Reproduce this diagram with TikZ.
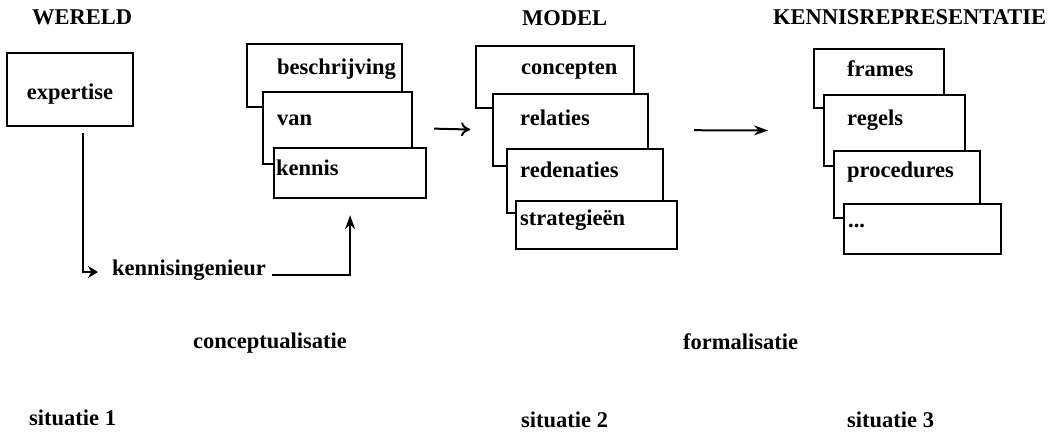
\documentclass[tikz,border=0pt]{standalone}
\usepackage{fontspec}
\setmainfont{Liberation Serif}
\usetikzlibrary{arrows.meta}

\tikzset{
  txt/.style={font=\fontsize{22.5}{25}\selectfont\bfseries, inner sep=0pt, anchor=base west},
  card/.style={draw, fill=white, line width=2.2pt, inner sep=0pt, anchor=north west},
  conn/.style={line width=2pt, -{Stealth[length=14pt,width=10pt]}},
}

% card from corner (x1,y1) to (x2,y2), pixel units
\newcommand{\card}[5]{%
  \node[card, minimum width={(#4-#2)*1pt}, minimum height={(#5-#3)*1pt}] (#1) at (#2,#3) {};}

\begin{document}
\begin{tikzpicture}[x=1pt,y=-1pt]
\useasboundingbox (0,0) rectangle (1054,433);

% Headings
\node[txt] (wereld) at (32,25) {WERELD};
\node[txt] (model) at (522,26) {MODEL};
\node[txt] (krep) at (773,25) {KENNISREPRESENTATIE};

% World
\node[draw, line width=2.2pt, minimum width=126pt, minimum height=73pt,
  text height=21pt, text depth=0pt,
  font=\fontsize{22.5}{25}\selectfont\bfseries] (expertise) at (70,89.5) {expertise};
\node[txt] (ki) at (112,275) {kennisingenieur};

% Description of knowledge
\card{b1}{246}{43}{401}{106}
\card{b2}{262}{91}{411}{163}
\card{b3}{273}{147}{425}{197}
\node[txt] (t1) at (277,75) {beschrijving};
\node[txt] (t2) at (277,125) {van};
\node[txt] (t3) at (276,175) {kennis};

% Model
\card{m1}{475}{45}{633}{107}
\card{m2}{492}{93}{647}{165}
\card{m3}{506}{148}{662}{212}
\card{m4}{515}{200}{676}{248}
\node[txt] (c1) at (521,75) {concepten};
\node[txt] (c2) at (520,125) {relaties};
\node[txt] (c3) at (520,177) {redenaties};
\node[txt] (c4) at (520,225) {strategieën};

% Representation
\card{r1}{813}{48}{943}{107}
\card{r2}{823}{94}{964}{165}
\card{r3}{833}{150}{979}{217}
\card{r4}{843}{203}{1000}{253}
\node[txt] (f1) at (847,77) {frames};
\node[txt] (f2) at (847,125) {regels};
\node[txt] (f3) at (847,177) {procedures};
\node[txt] (f4) at (848,227) {...};

% Connectors
\draw[line width=2pt, -{Stealth[length=10pt,width=12pt]}] ([xshift=13pt,yshift=-6pt]expertise.south) |- ([xshift=-14pt,yshift=3pt]ki.base west);
\draw[conn] ([xshift=6pt]ki.base east) -| ([yshift=-16pt]b3.south);
\draw[line width=2pt, -{To[length=9pt,width=14pt]}, shorten <=21pt, shorten >=22pt] (b2.east) -- (m2.west);
\draw[conn, shorten <=45pt, shorten >=55pt] (m2.east) -- (r2.west);

% Bottom labels
\node[txt] (concept) at (193,348) {conceptualisatie};
\node[txt] (formal) at (683,349) {formalisatie};
\node[txt] (sit1) at (29,425) {situatie 1};
\node[txt] (sit2) at (521,427) {situatie 2};
\node[txt] (sit3) at (847,427) {situatie 3};

\end{tikzpicture}
\end{document}
